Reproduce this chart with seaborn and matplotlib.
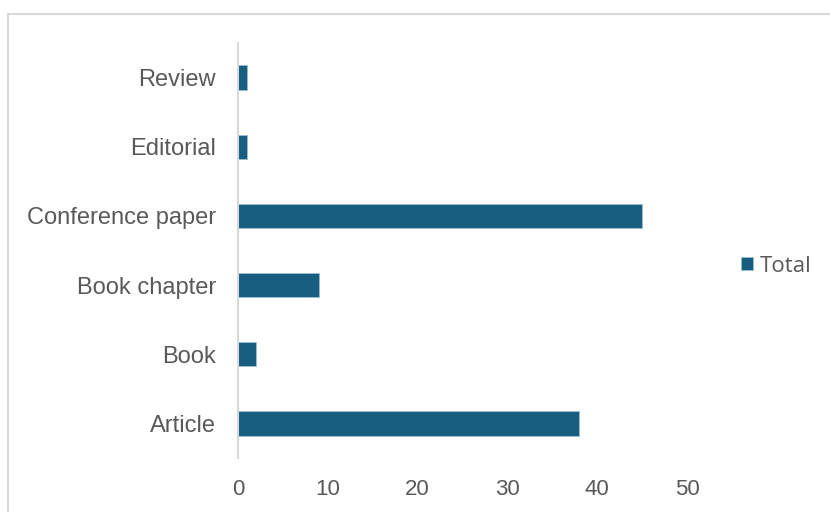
import pandas as pd
import matplotlib.pyplot as plt
import seaborn as sns
from matplotlib.patches import Rectangle

# datos del grafico (de arriba hacia abajo)
categorias = ["Review", "Editorial", "Conference paper", "Book chapter", "Book", "Article"]
totales = [1, 1, 45, 9, 2, 38]
serie = "Total"

df = pd.DataFrame({"tipo": categorias, "total": totales, "serie": serie})

sns.set_style("white")
plt.rcParams["font.family"] = ["Liberation Sans", "DejaVu Sans"]

color_barra = "#175E80"
gris_texto = "#595959"
gris_linea = "#D9D9D9"

fig = plt.figure(figsize=(8.3, 5.12), dpi=100)
ax = fig.add_axes([238 / 830, 1 - 458 / 512, (687 - 238) / 830, (458 - 43) / 512])

sns.barplot(data=df, x="total", y="tipo", hue="serie", palette=[color_barra],
            orient="h", width=0.35, saturation=1, edgecolor="#9DBDCD",
            linewidth=0.6, ax=ax)

ax.set_xlim(0, 50)
ax.set_xticks([0, 10, 20, 30, 40, 50])
ax.set_xlabel("")
ax.set_ylabel("")

for lado in ["top", "right", "bottom"]:
    ax.spines[lado].set_visible(False)
ax.spines["left"].set_color(gris_linea)
ax.spines["left"].set_linewidth(1.5)

ax.tick_params(axis="y", length=0, pad=16, labelsize=17, labelcolor=gris_texto)
ax.tick_params(axis="x", length=0, pad=15, labelsize=16, labelcolor=gris_texto)
ax.grid(False)

# leyenda a la derecha
leg = ax.legend(loc="center left", bbox_to_anchor=(741 / 830, 1 - 266 / 512),
                bbox_transform=fig.transFigure, frameon=False,
                borderpad=0, borderaxespad=0,
                handlelength=0.55, handleheight=0.55, handletextpad=0.3,
                prop={"family": "Open Sans", "size": 16})
for t in leg.get_texts():
    t.set_color(gris_texto)

# borde del area del grafico
fig.patches.append(Rectangle((8 / 830, -0.1), 1.0, 1 - 14 / 512 + 0.1,
                             transform=fig.transFigure, fill=False,
                             edgecolor=gris_linea, linewidth=1.5))

fig.savefig("out.png", dpi=100)
